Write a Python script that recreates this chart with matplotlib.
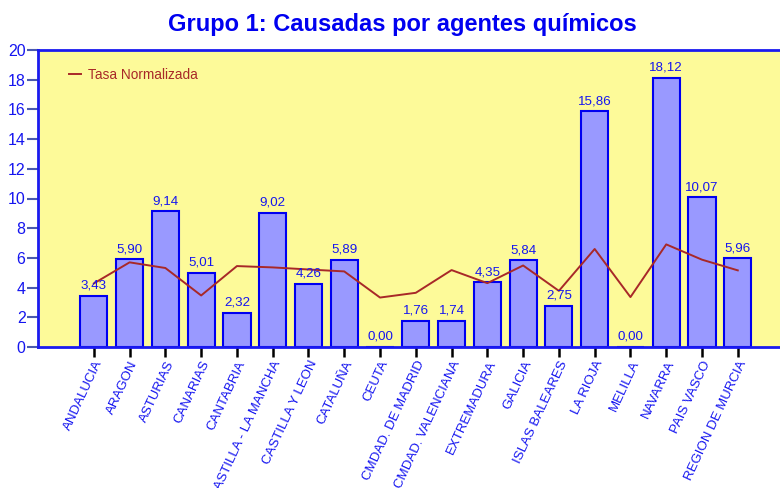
import matplotlib
matplotlib.use("Agg")
import matplotlib.pyplot as plt

plt.rcParams['font.family'] = ['Liberation Sans', 'DejaVu Sans']

categories = ["ANDALUCIA", "ARAGON", "ASTURIAS", "CANARIAS", "CANTABRIA",
              "CASTILLA - LA MANCHA", "CASTILLA Y LEON", "CATALUÑA", "CEUTA",
              "CMDAD. DE MADRID", "CMDAD. VALENCIANA", "EXTREMADURA", "GALICIA",
              "ISLAS BALEARES", "LA RIOJA", "MELILLA", "NAVARRA", "PAIS VASCO",
              "REGION DE MURCIA"]
bar_values = [3.43, 5.90, 9.14, 5.01, 2.32, 9.02, 4.26, 5.89, 0.00, 1.76,
              1.74, 4.35, 5.84, 2.75, 15.86, 0.00, 18.12, 10.07, 5.96]
tasa_normalizada = [4.28, 5.70, 5.32, 3.47, 5.45, 5.36, 5.22, 5.09, 3.33, 3.65,
                    5.18, 4.30, 5.49, 3.78, 6.60, 3.36, 6.91, 5.88, 5.16]
yticks = [0, 2, 4, 6, 8, 10, 12, 14, 16, 18, 20]

blue = '#1515F0'
fig = plt.figure(figsize=(7.8, 4.88), dpi=100)
ax = fig.add_axes([38/780, 1-347/488, 1-38/780, (347-50)/488])
ax.set_facecolor('#FDFA99')

x = list(range(len(categories)))
ax.bar(x, bar_values, width=0.76, color='#9999FF', edgecolor='#0000F0', linewidth=1.5, zorder=2)
ax.plot(x, tasa_normalizada, color='#A82828', linewidth=1.4, zorder=3, label='Tasa Normalizada')

for xi, v in zip(x, bar_values):
    ax.annotate(f"{v:.2f}".replace('.', ','), (xi, v), xytext=(0, 3), textcoords='offset points',
                ha='center', va='bottom', color=blue, fontsize=9.6)

ax.set_xlim(-1.56, 19.18)
ax.set_ylim(0, 20)
ax.set_yticks(yticks)
ax.set_yticklabels([str(t) for t in yticks], color=blue, fontsize=11.5)
ax.set_xticks(x)
ax.set_xticklabels(categories, rotation=65, ha='right', rotation_mode='anchor',
                   color=blue, fontsize=9.5)
ax.tick_params(axis='y', length=8, width=1.5, color='#4A5AB0', pad=1)
ax.tick_params(axis='x', length=7, width=1.8, color='black', pad=1.5)

for s in ['left', 'top', 'bottom']:
    ax.spines[s].set_color('#1A1AF0')
    ax.spines[s].set_linewidth(2)
ax.spines['right'].set_visible(False)

leg = ax.legend(loc='upper left', bbox_to_anchor=(0.025, 0.98), frameon=False,
                handlelength=0.9, handletextpad=0.5, fontsize=9.8)
for t in leg.get_texts():
    t.set_color('#A82828')

fig.text(402/780, 1-25/488, 'Grupo 1: Causadas por agentes químicos', ha='center', va='center',
         color='#0000F0', fontsize=17, fontweight='bold')

fig.savefig('out.png', dpi=100)
